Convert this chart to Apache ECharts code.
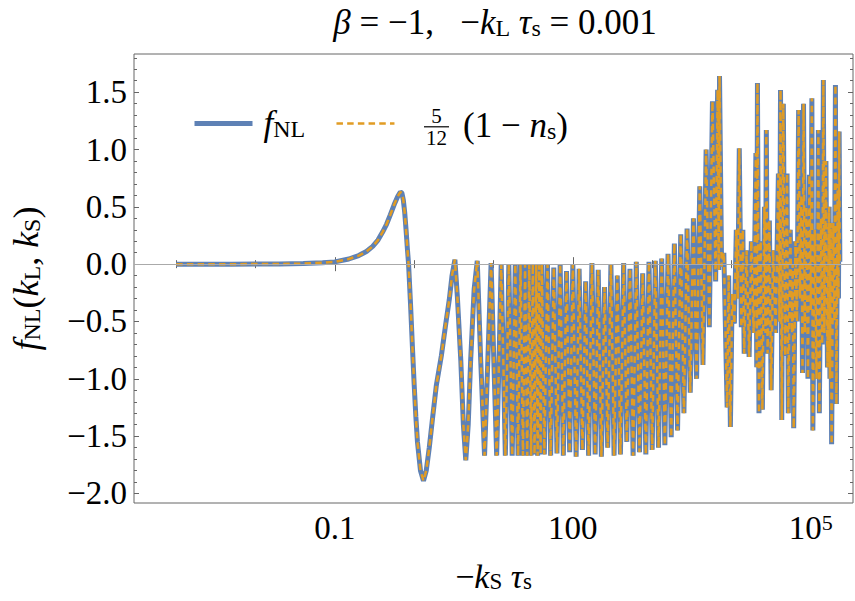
<!DOCTYPE html>
<html><head><meta charset="utf-8">
<script src="https://cdn.jsdelivr.net/npm/echarts@6/dist/echarts.min.js"></script>
<style>html,body{margin:0;padding:0;background:#fff}#c{width:855px;height:601px}</style>
</head><body><div id="c"></div>
<script>
// -k_S tau_s sample positions
const ksTau = [
0.001,0.002,0.005,0.01,0.02,0.04,0.07,0.1,0.15,0.2,0.25,0.3,0.35,0.4,0.45,0.5,0.56,0.62,0.67,0.70,0.73,0.76,0.79,0.82,0.85,0.90,0.95,1.0,1.05,1.1,1.2,1.31,1.42,1.55,1.7,1.9,2.2,2.5,2.77,3.0,3.26,3.5,3.87,4.17,4.47,4.8,5.15,5.7,6.24,6.9,7.71,8.5,9.33,10.1,10.96,11.75,12.5,13.3,14.1,14.9,15.6,17.2,18.8,20.4,21.9,23.5,25.0,26.6,28.2,29.8,31.3,32.9,34.5,36.0,37.6,39.2,40.7,
43.7,47.9,52.5,57.5,63.1,69.2,75.9,83.2,91.2,100,110,120,132,145,158,174,191,209,229,251,275,302,331,363,398,437,479,525,575,631,692,759,832,912,
1000,1096,1202,1318,1445,1585,1738,1905,2089,2291,2512,2754,3020,3311,3631,3981,4365,4786,5248,5754,6310,6683,6900,7063,
7500,8000,8810,9200,9683,10200,10864,11500,12000,12531,13300,13900,14454,15500,16672,17800,19000,20300,20800,21232,22200,23335,24500,26000,26800,27479,28500,30000,31623,33500,36000,39000,40200,41495,43000,45000,47500,50119,52000,55000,58000,59000,60814,64000,67000,70146,73000,76000,78500,80910,84000,88000,92000,96000,100000,103040,106000,112000,118000,124451,128000,134000,139000,143880,148000,155000,162000,170000,174000,178000,182810,192000,198000,204174,210000,218000,223000,227510,232000
];
// f_NL values
const fNL = [
0,0,0,0.001,0.002,0.005,0.012,0.02,0.045,0.075,0.11,0.155,0.21,0.28,0.35,0.43,0.52,0.59,0.63,0.62,0.56,0.45,0.30,0.14,0.0,-0.35,-0.72,-1.05,-1.33,-1.55,-1.80,-1.89,-1.80,-1.60,-1.35,-1.06,-0.80,-0.52,-0.31,-0.10,0.04,-0.28,-0.84,-1.40,-1.71,-1.40,-0.84,-0.22,0.03,-0.84,-1.67,-0.82,0.01,-0.85,-1.67,-0.82,0.0,-0.85,-1.67,-0.82,0.0,-1.67,0.0,-1.67,0.0,-1.67,0.0,-1.67,0.0,-1.67,0.0,-1.66,0.0,-1.67,-0.01,-1.66,0.0,
-1.66,0.0,-1.67,-0.03,-1.65,0.0,-1.67,-0.06,-1.64,0.0,-1.68,-0.04,-1.62,-0.15,-1.67,0.01,-1.66,-0.05,-1.68,-0.20,-1.60,0.0,-1.67,-0.10,-1.66,0.01,-1.55,-0.04,-1.67,0.02,-1.64,-0.08,-1.66,0.02,
-1.62,0.03,-1.60,0.05,-1.58,0.09,-1.51,0.18,-1.45,0.26,-1.30,0.31,-1.12,0.40,-1.00,0.68,-0.88,1.00,-0.55,1.42,-0.15,1.52,-0.05,1.64,
-0.02,0.10,-1.25,-0.10,-1.42,-0.26,-0.52,0.30,-0.30,1.01,-0.55,0.30,-0.78,0.12,-0.81,0.20,-0.60,0.97,-0.90,1.58,-1.30,0.20,-1.27,0.50,-0.60,1.17,-0.78,0.38,-1.10,0.12,-0.60,0.79,-0.50,1.52,-1.36,1.40,-0.80,0.79,-1.30,0.30,-0.60,0.0,-1.43,0.20,-0.50,1.345,-0.30,0.60,-0.95,1.40,-0.60,0.50,-1.00,0.78,-0.40,1.447,-1.45,0.30,-1.00,1.17,-1.30,0.40,-0.70,1.607,-0.60,0.90,-0.90,0.50,-1.00,0.36,-1.57,0.36,-0.50,1.563,-1.22,0.70,-0.30,1.156,0.02
];
// 5/12 (1 - n_s): coincides with f_NL everywhere in the picture
const spectralCurve = fNL.slice();

const xMajorTicks = [0.1, 100, 100000];
const xMinorTicks = [0.001, 0.01, 1, 10, 1000, 10000];
const yMajorTicks = [-2, -1.5, -1, -0.5, 0, 0.5, 1, 1.5];
const yMinorTicks = [-1.9,-1.8,-1.7,-1.6,-1.4,-1.3,-1.2,-1.1,-0.9,-0.8,-0.7,-0.6,-0.4,-0.3,-0.2,-0.1,0.1,0.2,0.3,0.4,0.6,0.7,0.8,0.9,1.1,1.2,1.3,1.4,1.6,1.7,1.8];

const F = "'Liberation Serif', 'Times New Roman', serif";
function rich(S) {
  return {
    i: {fontFamily: F, fontStyle: 'italic', fontSize: S, color: '#000'},
    n: {fontFamily: F, fontSize: S, color: '#000'},
    sub: {fontFamily: F, fontSize: Math.round(S*0.68), color: '#000', verticalAlign: 'bottom', lineHeight: Math.round(S*0.36)},
    sup: {fontFamily: F, fontSize: Math.round(S*0.68), color: '#000', verticalAlign: 'top', lineHeight: Math.round(S*0.58)},
    ph: {width: 170, height: 30}
  };
}
const FRAME = '#666';
const BLUE = '#5E81B5', ORANGE = '#E19C24';
const xmin = 2.94e-4, xmax = 3.40e5, ymin = -2.083, ymax = 1.833;
const pts = ksTau.map((k, i) => [k, fNL[i]]);
const pts2 = ksTau.map((k, i) => [k, spectralCurve[i]]);

function xAx(pos, ticks, len, labels) {
  return {
    type: 'log', position: pos, min: xmin, max: xmax, logBase: 10,
    axisLine: {show: false}, splitLine: {show: false},
    axisTick: {show: true, inside: true, length: len, customValues: ticks, lineStyle: {color: FRAME, width: 1}},
    axisLabel: labels ? {
      show: true, customValues: ticks, margin: 8, fontFamily: F, fontSize: 33, color: '#000',
      formatter: v => { const e = Math.round(Math.log10(v)); return e >= 5 ? '{n|10}{sup|' + e + '}' : (e < 0 ? '0.1' : String(Math.round(v))); },
      rich: rich(33)
    } : {show: false}
  };
}
function yAx(pos, ticks, len, labels) {
  return {
    type: 'value', position: pos, min: ymin, max: ymax,
    axisLine: {show: false}, splitLine: {show: false},
    axisTick: {show: true, inside: true, length: len, customValues: ticks, lineStyle: {color: FRAME, width: 1}},
    axisLabel: labels ? {
      show: true, customValues: ticks, margin: 7, fontFamily: F, fontSize: 33, color: '#000',
      formatter: v => (v < -1e-9 ? '\u2212' : '') + Math.abs(v).toFixed(1)
    } : {show: false}
  };
}

const chart = echarts.init(document.getElementById('c'), null, {renderer: 'svg'});
const xs = [xAx('bottom', xMajorTicks, 7, true), xAx('bottom', xMinorTicks, 4, false), xAx('top', xMajorTicks, 7, false), xAx('top', xMinorTicks, 4, false)];
xs[0].name = '\u2212{i|k}{sub|S} {i|\u03c4}{sub|s}';
xs[0].nameLocation = 'middle';
xs[0].nameGap = 56;
xs[0].nameTextStyle = {fontFamily: F, fontSize: 34, color: '#000', rich: rich(34)};
const ys = [yAx('left', yMajorTicks, 5, true), yAx('left', yMinorTicks, 3, false), yAx('right', yMajorTicks, 5, false), yAx('right', yMinorTicks, 3, false)];
ys[0].name = '{i|f}{sub|NL}({i|k}{sub|L}, {i|k}{sub|S})';
ys[0].nameLocation = 'middle';
ys[0].nameGap = 90;
ys[0].nameTextStyle = {fontFamily: F, fontSize: 36, color: '#000', rich: rich(36)};

const legendRich = rich(35);
legendRich.i = {fontFamily: F, fontStyle: 'italic', fontSize: 35, color: '#000', padding: [0, 0, 0, 6]};

chart.setOption({
  animation: false,
  backgroundColor: '#fff',
  title: {
    text: '{i|\u03b2} = \u22121,   \u2212{i|k}{sub|L} {i|\u03c4}{sub|s} = 0.001',
    left: 490, top: 0, textAlign: 'center',
    textStyle: {fontFamily: F, fontSize: 35, fontWeight: 'normal', color: '#000', rich: rich(35)}
  },
  grid: {left: 127, right: 2, top: 54, bottom: 98, show: true, borderColor: FRAME, borderWidth: 1, backgroundColor: 'transparent'},
  xAxis: xs,
  yAxis: ys,
  legend: {
    data: [
      {name: 'fNL', lineStyle: {color: BLUE, width: 5, type: 'solid'}},
      {name: 'ns', lineStyle: {color: ORANGE, width: 2.5, type: [6.5, 4.2]}}
    ],
    left: 187, top: 101, itemWidth: 58, itemHeight: 14, itemGap: 30,
    selectedMode: false,
    itemStyle: {color: 'transparent', borderWidth: 0, opacity: 0},
    formatter: n => n === 'fNL' ? '{i|f}{sub|NL}' : '{ph|}',
    textStyle: {fontFamily: F, fontSize: 35, color: '#000', rich: legendRich}
  },
  graphic: [
    {type: 'text', x: 436.5, y: 115.5, style: {text: '5', align: 'center', verticalAlign: 'middle', lineHeight: 18, fontFamily: F, fontSize: 21, fill: '#000'}},
    {type: 'rect', shape: {x: 424, y: 126.2, width: 25, height: 1.2}, style: {fill: '#000'}},
    {type: 'text', x: 436.5, y: 138, style: {text: '12', align: 'center', verticalAlign: 'middle', lineHeight: 18, fontFamily: F, fontSize: 21, fill: '#000'}},
    {type: 'text', x: 463, y: 125, style: {text: '(1 \u2212 {i|n}{sub|s})', verticalAlign: 'middle', fontFamily: F, fontSize: 35, fill: '#000', rich: rich(35)}}
  ],
  series: [
    {name: 'zero', type: 'line', data: [], z: 1, silent: true,
     markLine: {silent: true, symbol: 'none', label: {show: false}, lineStyle: {color: '#aaaaaa', width: 1, type: 'solid'}, data: [{yAxis: 0}]}},
    {name: 'fNL', type: 'line', data: pts, xAxisIndex: 0, yAxisIndex: 0, symbol: 'none', z: 2, clip: true,
     lineStyle: {color: BLUE, width: 5}, itemStyle: {color: BLUE}},
    {name: 'ns', type: 'line', data: pts2, xAxisIndex: 0, yAxisIndex: 0, symbol: 'none', z: 3, clip: true,
     lineStyle: {color: ORANGE, width: 2.5, type: [6.5, 4.2]}, itemStyle: {color: ORANGE}}
  ]
});
</script></body></html>
